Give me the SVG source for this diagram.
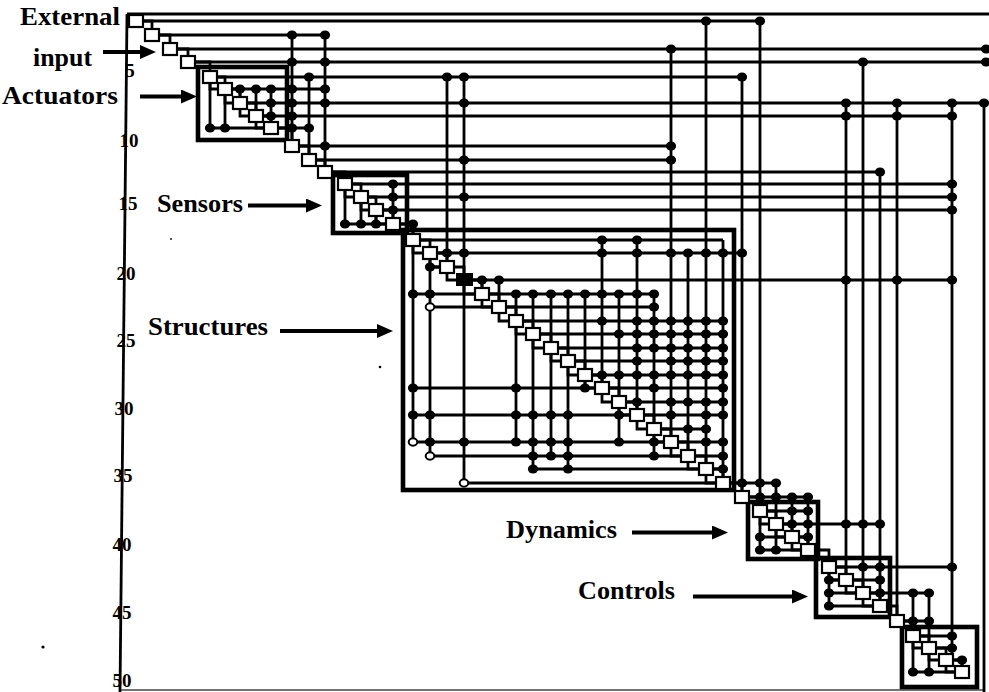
<svg xmlns="http://www.w3.org/2000/svg" width="989" height="692" viewBox="0 0 989 692">
<defs>
<style>
.ln{fill:none;stroke:#000;stroke-width:2.8}
.fr{fill:none;stroke:#000;stroke-width:4.6}
.bx{fill:#fff;stroke:#000;stroke-width:2.2}
.lbl{font-family:"Liberation Serif","Times New Roman",serif;font-weight:bold;font-size:26px;fill:#000}
.num{font-family:"Liberation Serif","Times New Roman",serif;font-weight:bold;font-size:19px;fill:#000;text-anchor:middle}
.ar{fill:none;stroke:#000;stroke-width:4;marker-end:url(#ah)}
</style>
<ellipse id="d" rx="5.1" ry="4.5" fill="#000"/>
<ellipse id="o" rx="4.3" ry="3.7" fill="#fff" stroke="#000" stroke-width="2"/>
<marker id="ah" markerUnits="userSpaceOnUse" markerWidth="16" markerHeight="14" viewBox="0 0 16 14" refX="8" refY="7" orient="auto"><path d="M0,0 L16,7 L0,14 z" fill="#000"/></marker>
</defs>
<rect width="989" height="692" fill="#fff"/>
<g id="frame">
<path class="ln" d="M127 14 H989" stroke-width="3"/>
<path class="ln" d="M127 14 L120 692" stroke-width="3"/>
<path d="M121 690 H985" stroke="#444" stroke-width="1.4"/>
<circle cx="43" cy="647" r="1.6"/>
<circle cx="380" cy="367" r="1.3"/>
<circle cx="171" cy="239" r="0.9"/>
</g>
<g id="connectors">
<path class="ln" d="M143 21H760 M159 35H325 M177 49H988 M195 62H988 M217 77H742 M232 89H325 M247 103H988 M263 116H952 M278 128H309 M299 146H671 M316 160H671 M332 172H880 M352 184H952 M368 197H952 M383 210H952 M400 224H413 M420 240H723 M437 253H742 M471 280H952 M489 294H654 M506 307H654 M523 321H723 M540 334H723 M558 348H723 M575 361H723 M592 375H723 M609 388H723 M626 402H723 M644 415H723 M661 429H706 M678 442H723 M695 456H723 M713 469H723 M730 483H776 M749 497H808 M767 511H808 M783 524H880 M799 537H808 M836 567H952 M853 580H880 M870 593H929 M904 621H929 M920 636H952 M936 648H952 M953 660H962"/>
<path class="ln" d="M240 89V97 M256 89V110 M271 89V122 M292 35V140 M309 77V154 M325 35V166 M393 184V218 M413 224V234 M447 77V261 M464 77V274 M482 280V288 M499 280V301 M516 294V315 M533 294V328 M551 294V342 M568 294V355 M585 294V369 M602 240V382 M619 294V396 M637 240V409 M654 294V423 M671 49V436 M688 253V450 M706 21V463 M723 240V477 M742 77V491 M760 21V505 M776 483V518 M792 497V531 M808 497V544 M846 103V574 M863 62V587 M880 172V600 M897 103V615 M913 593V630 M929 593V642 M952 103V654 M962 660V666 M984 103V692"/>
<path class="ln" d="M210 83V128 M225 95V128 M210 128H264 M345 190V224 M361 203V224 M376 216V224 M345 224H386 M413 246V442 M430 259V456 M464 286V483 M516 327V442 M533 340V469 M551 354V456 M568 367V469 M585 381V388 M619 408V442 M654 435V456 M430 267H440 M413 294H475 M430 307H492 M413 388H595 M413 415H630 M413 442H664 M430 456H681 M533 469H699 M464 483H716 M760 517V550 M776 530V550 M760 537H785 M760 550H801 M829 573V606 M829 580H839 M829 593H856 M829 606H873 M913 642V672 M929 654V672 M913 672H955"/>
<path class="ln" d="M143 21H152V29 M159 35H170V43 M177 49H188V56 M195 62H210V71 M217 77H225V83 M232 89H240V97 M247 103H256V110 M263 116H271V122 M278 128H292V140 M299 146H309V154 M316 160H325V166 M332 172H345V178 M352 184H361V191 M368 197H376V204 M383 210H393V218 M400 224H413V234 M420 240H430V247 M437 253H447V261 M454 267H464V274 M471 280H482V288 M489 294H499V301 M506 307H516V315 M523 321H533V328 M540 334H551V342 M558 348H568V355 M575 361H585V369 M592 375H602V382 M609 388H619V396 M626 402H637V409 M644 415H654V423 M661 429H671V436 M678 442H688V450 M695 456H706V463 M713 469H723V477 M730 483H742V491 M749 497H760V505 M767 511H776V518 M783 524H792V531 M799 537H808V544 M815 550H829V561 M836 567H846V574 M853 580H863V587 M870 593H880V600 M887 606H897V615 M904 621H913V630 M920 636H929V642 M936 648H946V654 M953 660H962V666"/>
<path class="ln" d="M210 83V89H218 M225 95V103H233 M240 109V116H249 M256 122V128H264 M345 190V197H354 M361 203V210H369 M376 216V224H386 M413 246V253H423 M430 259V267H440 M447 273V280H457 M464 286V294H475 M482 300V307H492 M499 313V321H509 M516 327V334H526 M533 340V348H544 M551 354V361H561 M568 367V375H578 M585 381V388H595 M602 394V402H612 M619 408V415H630 M637 421V429H647 M654 435V442H664 M671 448V456H681 M688 462V469H699 M706 475V483H716 M760 517V524H769 M776 530V537H785 M792 543V550H801 M829 573V580H839 M846 586V593H856 M863 599V606H873 M913 642V648H922 M929 654V660H939 M946 666V672H955"/>
</g>
<g id="blocks">
<rect id="actuators" class="fr" x="198" y="67" width="89" height="73"/>
<rect id="sensors" class="fr" x="333" y="175" width="74" height="58"/>
<rect id="structures" class="fr" x="403" y="230" width="331" height="260"/>
<rect id="dynamics" class="fr" x="748" y="502" width="70" height="57"/>
<rect id="controls" class="fr" x="816" y="558" width="74" height="59"/>
<rect id="last" class="fr" x="902" y="627" width="75" height="60"/>
</g>
<g id="nodes">
<g id="e1"><rect class="bx" x="129" y="15" width="14" height="12"/></g>
<g id="e2"><rect class="bx" x="145" y="29" width="14" height="12"/></g>
<g id="e3"><rect class="bx" x="163" y="43" width="14" height="12"/></g>
<g id="e4"><rect class="bx" x="181" y="56" width="14" height="12"/></g>
<g id="e5"><rect class="bx" x="203" y="71" width="14" height="12"/></g>
<g id="e6"><rect class="bx" x="218" y="83" width="14" height="12"/></g>
<g id="e7"><rect class="bx" x="233" y="97" width="14" height="12"/></g>
<g id="e8"><rect class="bx" x="249" y="110" width="14" height="12"/></g>
<g id="e9"><rect class="bx" x="264" y="122" width="14" height="12"/></g>
<g id="e10"><rect class="bx" x="285" y="140" width="14" height="12"/></g>
<g id="e11"><rect class="bx" x="302" y="154" width="14" height="12"/></g>
<g id="e12"><rect class="bx" x="318" y="166" width="14" height="12"/></g>
<g id="e13"><rect class="bx" x="338" y="178" width="14" height="12"/></g>
<g id="e14"><rect class="bx" x="354" y="191" width="14" height="12"/></g>
<g id="e15"><rect class="bx" x="369" y="204" width="14" height="12"/></g>
<g id="e16"><rect class="bx" x="386" y="218" width="14" height="12"/></g>
<g id="e17"><rect class="bx" x="406" y="234" width="14" height="12"/></g>
<g id="e18"><rect class="bx" x="423" y="247" width="14" height="12"/></g>
<g id="e19"><rect class="bx" x="440" y="261" width="14" height="12"/></g>
<g id="e20"><rect x="456" y="273" width="17" height="13" fill="#000"/></g>
<g id="e21"><rect class="bx" x="475" y="288" width="14" height="12"/></g>
<g id="e22"><rect class="bx" x="492" y="301" width="14" height="12"/></g>
<g id="e23"><rect class="bx" x="509" y="315" width="14" height="12"/></g>
<g id="e24"><rect class="bx" x="526" y="328" width="14" height="12"/></g>
<g id="e25"><rect class="bx" x="544" y="342" width="14" height="12"/></g>
<g id="e26"><rect class="bx" x="561" y="355" width="14" height="12"/></g>
<g id="e27"><rect class="bx" x="578" y="369" width="14" height="12"/></g>
<g id="e28"><rect class="bx" x="595" y="382" width="14" height="12"/></g>
<g id="e29"><rect class="bx" x="612" y="396" width="14" height="12"/></g>
<g id="e30"><rect class="bx" x="630" y="409" width="14" height="12"/></g>
<g id="e31"><rect class="bx" x="647" y="423" width="14" height="12"/></g>
<g id="e32"><rect class="bx" x="664" y="436" width="14" height="12"/></g>
<g id="e33"><rect class="bx" x="681" y="450" width="14" height="12"/></g>
<g id="e34"><rect class="bx" x="699" y="463" width="14" height="12"/></g>
<g id="e35"><rect class="bx" x="716" y="477" width="14" height="12"/></g>
<g id="e36"><rect class="bx" x="735" y="491" width="14" height="12"/></g>
<g id="e37"><rect class="bx" x="753" y="505" width="14" height="12"/></g>
<g id="e38"><rect class="bx" x="769" y="518" width="14" height="12"/></g>
<g id="e39"><rect class="bx" x="785" y="531" width="14" height="12"/></g>
<g id="e40"><rect class="bx" x="801" y="544" width="14" height="12"/></g>
<g id="e41"><rect class="bx" x="822" y="561" width="14" height="12"/></g>
<g id="e42"><rect class="bx" x="839" y="574" width="14" height="12"/></g>
<g id="e43"><rect class="bx" x="856" y="587" width="14" height="12"/></g>
<g id="e44"><rect class="bx" x="873" y="600" width="14" height="12"/></g>
<g id="e45"><rect class="bx" x="890" y="615" width="14" height="12"/></g>
<g id="e46"><rect class="bx" x="906" y="630" width="14" height="12"/></g>
<g id="e47"><rect class="bx" x="922" y="642" width="14" height="12"/></g>
<g id="e48"><rect class="bx" x="939" y="654" width="14" height="12"/></g>
<g id="e49"><rect class="bx" x="955" y="666" width="14" height="12"/></g>
</g>
<g id="dots">
<use href="#d" x="706" y="21"/><use href="#d" x="760" y="21"/>
<use href="#d" x="292" y="35"/><use href="#d" x="325" y="35"/>
<use href="#d" x="671" y="49"/><use href="#d" x="986" y="49"/>
<use href="#d" x="292" y="62"/><use href="#d" x="325" y="62"/><use href="#d" x="863" y="62"/><use href="#d" x="986" y="62"/>
<use href="#d" x="309" y="77"/><use href="#d" x="447" y="77"/><use href="#d" x="464" y="77"/><use href="#d" x="742" y="77"/>
<use href="#d" x="240" y="89"/><use href="#d" x="256" y="89"/><use href="#d" x="271" y="89"/><use href="#d" x="292" y="89"/><use href="#d" x="325" y="89"/>
<use href="#d" x="271" y="103"/><use href="#d" x="292" y="103"/><use href="#d" x="325" y="103"/><use href="#d" x="464" y="103"/><use href="#d" x="846" y="103"/><use href="#d" x="897" y="103"/><use href="#d" x="952" y="103"/><use href="#d" x="984" y="103"/>
<use href="#d" x="271" y="116"/><use href="#d" x="292" y="116"/><use href="#d" x="846" y="116"/><use href="#d" x="897" y="116"/><use href="#d" x="952" y="116"/>
<use href="#d" x="292" y="128"/><use href="#d" x="309" y="128"/><use href="#d" x="210" y="128"/><use href="#d" x="225" y="128"/>
<use href="#d" x="325" y="146"/><use href="#d" x="671" y="146"/>
<use href="#d" x="464" y="160"/><use href="#d" x="671" y="160"/>
<use href="#d" x="880" y="172"/>
<use href="#d" x="393" y="184"/><use href="#d" x="952" y="184"/>
<use href="#d" x="393" y="197"/><use href="#d" x="464" y="197"/><use href="#d" x="952" y="197"/>
<use href="#d" x="393" y="210"/><use href="#d" x="952" y="210"/>
<use href="#d" x="413" y="224"/><use href="#d" x="345" y="224"/><use href="#d" x="361" y="224"/><use href="#d" x="376" y="224"/>
<use href="#d" x="602" y="240"/><use href="#d" x="637" y="240"/>
<use href="#d" x="447" y="253"/><use href="#d" x="464" y="253"/><use href="#d" x="602" y="253"/><use href="#d" x="637" y="253"/><use href="#d" x="671" y="253"/><use href="#d" x="688" y="253"/><use href="#d" x="706" y="253"/><use href="#d" x="723" y="253"/><use href="#d" x="742" y="253"/>
<use href="#d" x="430" y="267"/>
<use href="#d" x="482" y="280"/><use href="#d" x="499" y="280"/><use href="#d" x="846" y="280"/><use href="#d" x="897" y="280"/><use href="#d" x="952" y="280"/>
<use href="#d" x="516" y="294"/><use href="#d" x="533" y="294"/><use href="#d" x="551" y="294"/><use href="#d" x="568" y="294"/><use href="#d" x="585" y="294"/><use href="#d" x="602" y="294"/><use href="#d" x="619" y="294"/><use href="#d" x="637" y="294"/><use href="#d" x="654" y="294"/><use href="#d" x="413" y="294"/><use href="#d" x="430" y="294"/>
<use href="#d" x="654" y="307"/><use href="#o" x="430" y="307"/>
<use href="#d" x="602" y="321"/><use href="#d" x="637" y="321"/><use href="#d" x="654" y="321"/><use href="#d" x="671" y="321"/><use href="#d" x="688" y="321"/><use href="#d" x="706" y="321"/><use href="#d" x="723" y="321"/>
<use href="#d" x="619" y="334"/><use href="#d" x="637" y="334"/><use href="#d" x="654" y="334"/><use href="#d" x="671" y="334"/><use href="#d" x="688" y="334"/><use href="#d" x="706" y="334"/><use href="#d" x="723" y="334"/>
<use href="#d" x="637" y="348"/><use href="#d" x="654" y="348"/><use href="#d" x="671" y="348"/><use href="#d" x="688" y="348"/><use href="#d" x="706" y="348"/><use href="#d" x="723" y="348"/>
<use href="#d" x="637" y="361"/><use href="#d" x="671" y="361"/><use href="#d" x="688" y="361"/><use href="#d" x="706" y="361"/><use href="#d" x="723" y="361"/>
<use href="#d" x="602" y="375"/><use href="#d" x="619" y="375"/><use href="#d" x="637" y="375"/><use href="#d" x="654" y="375"/><use href="#d" x="671" y="375"/><use href="#d" x="688" y="375"/><use href="#d" x="706" y="375"/><use href="#d" x="723" y="375"/>
<use href="#d" x="654" y="388"/><use href="#d" x="723" y="388"/><use href="#d" x="413" y="388"/><use href="#d" x="516" y="388"/><use href="#d" x="585" y="388"/>
<use href="#d" x="637" y="402"/><use href="#d" x="671" y="402"/><use href="#d" x="688" y="402"/><use href="#d" x="706" y="402"/><use href="#d" x="723" y="402"/>
<use href="#d" x="671" y="415"/><use href="#d" x="706" y="415"/><use href="#d" x="723" y="415"/><use href="#d" x="413" y="415"/><use href="#d" x="430" y="415"/><use href="#d" x="516" y="415"/><use href="#d" x="533" y="415"/><use href="#d" x="551" y="415"/><use href="#d" x="568" y="415"/><use href="#d" x="619" y="415"/>
<use href="#d" x="688" y="429"/><use href="#d" x="706" y="429"/>
<use href="#d" x="706" y="442"/><use href="#d" x="723" y="442"/><use href="#d" x="430" y="442"/><use href="#d" x="464" y="442"/><use href="#d" x="516" y="442"/><use href="#d" x="533" y="442"/><use href="#d" x="551" y="442"/><use href="#d" x="568" y="442"/><use href="#d" x="619" y="442"/><use href="#d" x="654" y="442"/><use href="#o" x="413" y="442"/>
<use href="#d" x="723" y="456"/><use href="#d" x="533" y="456"/><use href="#d" x="551" y="456"/><use href="#d" x="568" y="456"/><use href="#d" x="654" y="456"/><use href="#o" x="430" y="456"/>
<use href="#d" x="723" y="469"/><use href="#d" x="533" y="469"/><use href="#d" x="568" y="469"/>
<use href="#d" x="742" y="483"/><use href="#d" x="760" y="483"/><use href="#d" x="776" y="483"/><use href="#o" x="464" y="483"/>
<use href="#d" x="760" y="497"/><use href="#d" x="776" y="497"/><use href="#d" x="792" y="497"/><use href="#d" x="808" y="497"/>
<use href="#d" x="792" y="511"/><use href="#d" x="808" y="511"/>
<use href="#d" x="792" y="524"/><use href="#d" x="808" y="524"/><use href="#d" x="846" y="524"/><use href="#d" x="863" y="524"/><use href="#d" x="880" y="524"/>
<use href="#d" x="808" y="537"/><use href="#d" x="760" y="537"/>
<use href="#d" x="760" y="550"/><use href="#d" x="776" y="550"/>
<use href="#d" x="863" y="567"/><use href="#d" x="880" y="567"/><use href="#d" x="952" y="567"/>
<use href="#d" x="880" y="580"/><use href="#d" x="829" y="580"/>
<use href="#d" x="880" y="593"/><use href="#d" x="913" y="593"/><use href="#d" x="929" y="593"/><use href="#d" x="829" y="593"/>
<use href="#d" x="829" y="606"/>
<use href="#d" x="913" y="621"/><use href="#d" x="929" y="621"/>
<use href="#d" x="952" y="636"/>
<use href="#d" x="952" y="648"/>
<use href="#d" x="962" y="660"/>
<use href="#d" x="913" y="672"/><use href="#d" x="929" y="672"/>
</g>
<g id="labels">
<text class="lbl" x="20" y="25" textLength="100" lengthAdjust="spacingAndGlyphs">External</text>
<text class="lbl" x="33" y="66" textLength="59" lengthAdjust="spacingAndGlyphs">input</text>
<text class="lbl" x="2" y="104" textLength="116" lengthAdjust="spacingAndGlyphs">Actuators</text>
<text class="lbl" x="157" y="212" textLength="86" lengthAdjust="spacingAndGlyphs">Sensors</text>
<text class="lbl" x="148" y="335" textLength="120" lengthAdjust="spacingAndGlyphs">Structures</text>
<text class="lbl" x="506" y="538" textLength="111" lengthAdjust="spacingAndGlyphs">Dynamics</text>
<text class="lbl" x="578" y="599" textLength="97" lengthAdjust="spacingAndGlyphs">Controls</text>
<path class="ar" d="M103 52H148"/>
<path class="ar" d="M140 96.5H189"/>
<path class="ar" d="M248 205.5H314"/>
<path class="ar" d="M280 331H385"/>
<path class="ar" d="M632 532.5H720"/>
<path class="ar" d="M693 596.5H800"/>
</g>
<g id="axis">
<text class="num" x="130" y="77">5</text>
<text class="num" x="129" y="147">10</text>
<text class="num" x="128" y="210">15</text>
<text class="num" x="126" y="280">20</text>
<text class="num" x="126" y="347">25</text>
<text class="num" x="124" y="415">30</text>
<text class="num" x="123" y="482">35</text>
<text class="num" x="122" y="551">40</text>
<text class="num" x="122" y="619">45</text>
<text class="num" x="122" y="687">50</text>
</g>
</svg>
